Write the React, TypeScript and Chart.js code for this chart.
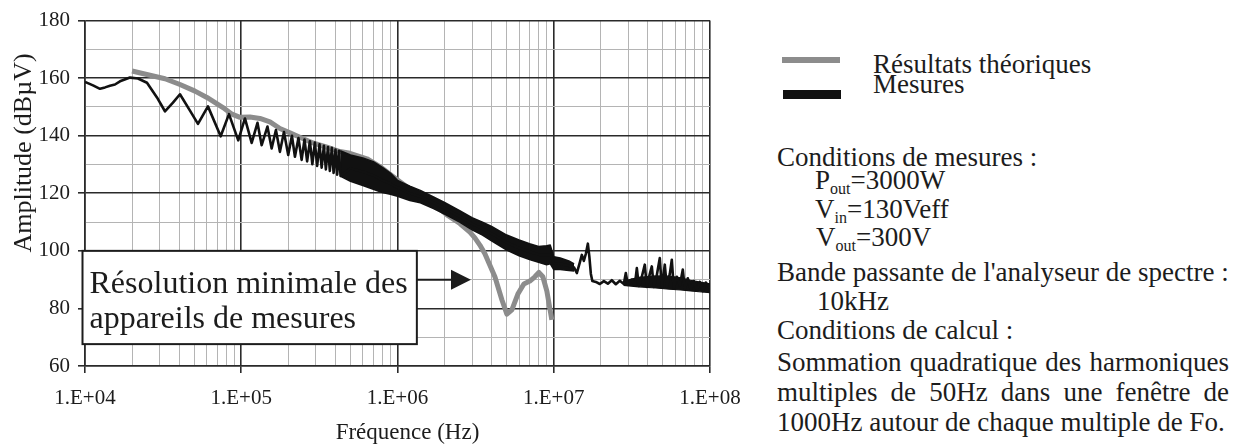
import React, { useEffect, useRef } from "react";
import { Chart, registerables } from "chart.js";

Chart.register(...registerables);

// ---------- data ----------
const seriesNames = ["Résultats théoriques", "Mesures"];

// Résultats théoriques (gray)
const theoFreq = [
  20000, 26050, 32500, 40530, 50600, 60300, 76400, 87200, 98100, 113700,
  131700, 152600, 176800, 204900, 237400, 287500, 353500, 428000, 496000, 637000,
  772000, 991000, 1200000, 1391000, 1612000, 1867000, 2071000, 2507000, 2905000, 3128000,
  3367000, 3625000, 4201000, 4656000, 5012000, 5395000, 5893000, 6437000, 7033000, 7570000,
  8030000, 8516000, 9035000, 9440000, 9720000,
];
const theoDb = [
  162.5, 161, 159.8, 157.8, 155.5, 153.3, 149.8, 147.5, 146.4, 146.5,
  146, 144.8, 142.5, 141, 139.5, 137.5, 136, 134.5, 133.9, 132,
  129.3, 124.8, 121.5, 119.5, 117.5, 114.5, 112.5, 109.5, 106.5, 104.5,
  102, 99, 91, 83, 78, 79.5, 85, 88.5, 89.5, 91,
  92.5, 91, 86, 80, 76,
];

// Mesures (black line)
const measFreq = [
  10000, 11250, 12470, 13430, 14450, 15550, 16750, 19410, 21840, 24930,
  28880, 32490, 36560, 40530, 46970, 52840, 61220, 73840, 83440, 95680,
  105600, 116600, 127000, 135100, 147100, 156500, 166700, 176800, 187600, 199800,
  211000, 220600, 232300, 243500, 254000, 264000, 275000, 285000, 296000, 306000,
  317000, 327000, 338000, 348000, 359000, 369000, 380000, 390000, 401000, 411000,
  422000, 432000, 500000, 600000, 700000, 800000, 900000, 1000000, 1200000, 1400000,
  1700000, 2000000, 2500000, 3000000, 3500000, 4000000, 5000000, 6000000, 7000000, 8000000,
  9000000, 9500000, 10000000, 11000000, 12500000, 13500000, 14050000, 14690000, 15130000, 15580000,
  16050000, 16530000, 16900000, 17280000, 17660000, 18600000, 19720000, 20930000, 22190000, 23530000,
  24960000, 26480000, 28080000, 28920000, 29790000, 31600000, 33030000, 34020000, 35030000, 36610000,
  38260000, 39410000, 41190000, 42420000, 43690000, 45660000, 47720000, 49140000, 51360000, 52900000,
  55320000, 56960000, 58660000, 61320000, 64090000, 66990000, 68990000, 72110000, 75370000, 78780000,
  82320000, 86040000, 89930000, 94000000, 100000000,
];
const measDb = [
  158.7, 157.5, 156.3, 156.8, 157.4, 157.8, 158.9, 160.2, 159.9, 158.4,
  153.3, 148.5, 151.5, 154.4, 148.7, 144.1, 150.2, 139.8, 147.5, 138.4,
  146, 137.5, 144.5, 136.7, 143.2, 135.6, 142, 134.4, 141.3, 133.3,
  140, 132.7, 139.2, 131.6, 138.7, 131.1, 138.1, 130.1, 137.6, 129.5,
  137, 128.9, 136.5, 128.3, 136.1, 127.8, 135.8, 127.1, 135.2, 126.5,
  134.8, 126, 128.7, 127.5, 126.2, 124.6, 123.3, 122, 120, 118.8,
  116.7, 114.8, 112, 109.4, 107.7, 106, 102.9, 101, 99.7, 98.7,
  98.5, 98.7, 95.7, 95.5, 94.8, 94.2, 92.3, 96, 98.6, 96.5,
  99, 102.5, 98, 92, 89.5, 89.2, 88.5, 89.5, 88.6, 89.8,
  88.4, 89.6, 88.5, 92.3, 88.2, 90, 88, 94, 87.8, 91,
  95.2, 87.5, 92, 94.6, 87.5, 91.5, 97.5, 87.2, 95.2, 87.5,
  92, 96.9, 87, 91, 88, 93.5, 86.8, 90.5, 86.5, 89.5,
  86.3, 89.2, 86, 89, 87,
];

// Mesures: dense envelope of the spectrum (upper / lower)
const bandFreq = [
  430000, 500000, 600000, 700000, 800000, 900000, 1000000, 1200000, 1400000, 1700000,
  2000000, 2500000, 3000000, 3500000, 4000000, 5000000, 6000000, 7000000, 8000000, 9000000,
  9500000, 10000000, 11000000, 12500000, 13500000,
];
const bandUpper = [
  134.8, 133.3, 132.3, 131, 129, 127, 124.5, 122.5, 121, 118.7,
  116.8, 114, 111.5, 110, 108.5, 105.5, 103.8, 102.5, 101.5, 101.8,
  102, 98, 97.5, 96.5, 95.5,
];
const bandLower = [
  126, 124.2, 122.7, 121.4, 120.3, 119.7, 119, 117.5, 116.7, 114.7,
  112.8, 110, 107.3, 105.5, 103.5, 100.3, 98.3, 97, 96, 95.2,
  95.5, 93.5, 93.5, 93.2, 93,
];
const floorFreq = [28000000, 35000000, 45000000, 55000000, 65000000, 75000000, 85000000, 100000000];
const floorUpper = [89.5, 90.8, 91.3, 91.2, 90.6, 89.8, 89.2, 88.5];
const floorLower = [88, 87.5, 87.1, 86.7, 86.4, 86.1, 85.8, 85.5];

// axes
const xMajorTicks = [10000, 100000, 1000000, 10000000, 100000000];
const xTickLabels = ["1.E+04", "1.E+05", "1.E+06", "1.E+07", "1.E+08"];
const xMinorMultipliers = [2, 3, 4, 5, 6, 7, 8, 9];
const yMajorTicks = [60, 80, 100, 120, 140, 160, 180];
const yTickLabels = ["60", "80", "100", "120", "140", "160", "180"];
const yMinorTicks = [70, 90, 110, 130, 150, 170];

const xTitle = "Fréquence (Hz)";
const yTitle = "Amplitude (dBµV)";
const annotLines = ["Résolution minimale des", "appareils de mesures"];
const annot = { x0: 10000, x1: 1330000, yTop: 100, yBottom: 67.6, arrowY: 90, arrowBase: 2200000, arrowTip: 2950000 };

// ---------- styles ----------
const SERIF = "'Liberation Serif', 'Times New Roman', serif";
const INK = "#1c1c1c";
const GRAY = "#8c8c8c";
const MAJOR_GRID = "#2a2a2a";
const MINOR_GRID = "#b4b4b4";

const pts = (xs: number[], ys: number[]) => xs.map((x, i) => ({ x, y: ys[i] }));

const xTickValues: number[] = [];
xMajorTicks.slice(0, -1).forEach((d) => {
  xTickValues.push(d);
  xMinorMultipliers.forEach((m) => xTickValues.push(d * m));
});
xTickValues.push(xMajorTicks[xMajorTicks.length - 1]);
const yTickValues = [...yMajorTicks, ...yMinorTicks].sort((a, b) => a - b);

const isXMajor = (v: number) => xMajorTicks.some((d) => Math.abs(d - v) / d < 1e-6);
const isYMajor = (v: number) => yMajorTicks.includes(v);

const overlayPlugin = {
  id: "overlay",
  afterDraw(chart: any) {
    const { ctx, scales } = chart;
    const x = scales.x;
    const y = scales.y;
    ctx.save();
    // annotation box
    const bx0 = x.getPixelForValue(annot.x0) - 2.5;
    const bx1 = x.getPixelForValue(annot.x1);
    const by0 = y.getPixelForValue(annot.yTop);
    const by1 = y.getPixelForValue(annot.yBottom);
    ctx.fillStyle = "#ffffff";
    ctx.fillRect(bx0, by0, bx1 - bx0, by1 - by0);
    ctx.strokeStyle = INK;
    ctx.lineWidth = 2;
    ctx.strokeRect(bx0, by0, bx1 - bx0, by1 - by0);
    ctx.fillStyle = INK;
    ctx.font = `32px ${SERIF}`;
    ctx.textAlign = "left";
    ctx.textBaseline = "alphabetic";
    ctx.fillText(annotLines[0], bx0 + 7, by0 + 42);
    ctx.fillText(annotLines[1], bx0 + 7, by0 + 77);
    // arrow
    const ay = y.getPixelForValue(annot.arrowY);
    const ab = x.getPixelForValue(annot.arrowBase);
    const at = x.getPixelForValue(annot.arrowTip);
    ctx.beginPath();
    ctx.moveTo(bx1, ay);
    ctx.lineTo(ab + 1, ay);
    ctx.lineWidth = 2;
    ctx.stroke();
    ctx.beginPath();
    ctx.moveTo(ab, ay - 10);
    ctx.lineTo(at, ay);
    ctx.lineTo(ab, ay + 10);
    ctx.closePath();
    ctx.fill();
    // axis titles
    const area = chart.chartArea;
    ctx.font = `23px ${SERIF}`;
    ctx.textAlign = "center";
    ctx.textBaseline = "middle";
    ctx.fillText(xTitle, (area.left + area.right) / 2 + 10, 433);
    ctx.translate(24, 153);
    ctx.rotate(-Math.PI / 2);
    ctx.font = `26px ${SERIF}`;
    ctx.fillText(yTitle, 0, 0);
    ctx.restore();
  },
};

function ChartCanvas() {
  const ref = useRef<HTMLCanvasElement | null>(null);
  useEffect(() => {
    if (!ref.current) return;
    const lineBase = { pointRadius: 0, tension: 0, borderJoinStyle: "round" as const };
    const chart = new Chart(ref.current, {
      type: "line",
      data: {
        datasets: [
          {
            label: seriesNames[1],
            data: pts(measFreq, measDb),
            borderColor: "#111111",
            borderWidth: 2.6,
            fill: false,
            order: 1,
            ...lineBase,
          },
          {
            label: seriesNames[1] + " (enveloppe haute)",
            data: pts(bandFreq, bandUpper),
            borderColor: "#111111",
            backgroundColor: "#111111",
            borderWidth: 1.5,
            fill: "+1",
            order: 2,
            ...lineBase,
          },
          {
            label: seriesNames[1] + " (enveloppe basse)",
            data: pts(bandFreq, bandLower),
            borderColor: "#111111",
            borderWidth: 1.5,
            fill: false,
            order: 3,
            ...lineBase,
          },
          {
            label: seriesNames[1] + " (plancher haut)",
            data: pts(floorFreq, floorUpper),
            borderColor: "#111111",
            backgroundColor: "#111111",
            borderWidth: 1.2,
            fill: "+1",
            order: 4,
            ...lineBase,
          },
          {
            label: seriesNames[1] + " (plancher bas)",
            data: pts(floorFreq, floorLower),
            borderColor: "#111111",
            borderWidth: 1.2,
            fill: false,
            order: 5,
            ...lineBase,
          },
          {
            label: seriesNames[0],
            data: pts(theoFreq, theoDb),
            borderColor: GRAY,
            borderWidth: 5,
            fill: false,
            order: 10,
            ...lineBase,
          },
        ],
      },
      options: {
        responsive: false,
        animation: false,
        events: [],
        layout: { padding: { left: 0, right: 50, top: 15, bottom: 0 } },
        plugins: { legend: { display: false }, tooltip: { enabled: false } },
        scales: {
          x: {
            type: "logarithmic",
            min: 10000,
            max: 100000000,
            afterBuildTicks: (s: any) => {
              s.ticks = xTickValues.map((v) => ({ value: v }));
            },
            afterFit: (s: any) => {
              s.height = 80;
            },
            ticks: {
              autoSkip: false,
              maxRotation: 0,
              minRotation: 0,
              padding: 13,
              color: INK,
              font: { family: SERIF, size: 21 },
              callback: (v: any) => {
                const i = xMajorTicks.findIndex((d) => Math.abs(d - Number(v)) / d < 1e-6);
                return i >= 0 ? xTickLabels[i] : "";
              },
            },
            grid: {
              color: (c: any) => (isXMajor(c.tick.value) ? MAJOR_GRID : MINOR_GRID),
              lineWidth: (c: any) => (isXMajor(c.tick.value) ? 1.6 : 1),
              tickLength: 7,
              tickColor: (c: any) => (isXMajor(c.tick.value) ? MAJOR_GRID : "rgba(0,0,0,0)"),
              tickWidth: 1.6,
            },
            border: { display: true, color: MAJOR_GRID, width: 1.6 },
          },
          y: {
            type: "linear",
            min: 60,
            max: 180,
            afterBuildTicks: (s: any) => {
              s.ticks = yTickValues.map((v) => ({ value: v }));
            },
            afterFit: (s: any) => {
              s.width = 85;
            },
            ticks: {
              autoSkip: false,
              padding: 8,
              color: INK,
              font: { family: SERIF, size: 21 },
              callback: (v: any) => {
                const i = yMajorTicks.indexOf(Number(v));
                return i >= 0 ? yTickLabels[i] : "";
              },
            },
            grid: {
              color: (c: any) => (isYMajor(c.tick.value) ? MAJOR_GRID : MINOR_GRID),
              lineWidth: (c: any) => (isYMajor(c.tick.value) ? 1.6 : 1),
              tickLength: 7,
              tickColor: (c: any) => (isYMajor(c.tick.value) ? MAJOR_GRID : "rgba(0,0,0,0)"),
              tickWidth: 1.6,
            },
            border: { display: true, color: MAJOR_GRID, width: 1.6 },
          },
        },
      },
      plugins: [overlayPlugin],
    } as any);
    return () => chart.destroy();
  }, []);
  return <canvas ref={ref} width={760} height={446} style={{ position: "absolute", left: 0, top: 0, width: 760, height: 446 }} />;
}

const T = ({ left, top, children, style }: { left: number; top: number; children: any; style?: any }) => (
  <div
    style={{
      position: "absolute",
      left,
      top,
      fontFamily: SERIF,
      fontSize: 27,
      lineHeight: "27px",
      color: INK,
      whiteSpace: "nowrap",
      ...style,
    }}
  >
    {children}
  </div>
);

const Sub = ({ children }: { children: any }) => (
  <span style={{ fontSize: 16, position: "relative", top: 5 }}>{children}</span>
);

export default function App() {
  const just = { width: 452, textAlign: "justify" as const, textAlignLast: "justify" as const, whiteSpace: "normal" as const };
  return (
    <div style={{ position: "absolute", left: 0, top: 0, width: 1250, height: 446, background: "#ffffff", overflow: "hidden" }}>
      <ChartCanvas />
      {/* legend */}
      <div style={{ position: "absolute", left: 782, top: 57, width: 58, height: 6, background: GRAY }} />
      <div style={{ position: "absolute", left: 783, top: 90, width: 58, height: 9, background: "#111111" }} />
      <T left={873} top={51}>{seriesNames[0]}</T>
      <T left={873} top={71}>{seriesNames[1]}</T>
      {/* conditions */}
      <T left={777} top={144}>Conditions de mesures :</T>
      <T left={815} top={167}>
        P<Sub>out</Sub>=3000W
      </T>
      <T left={815} top={196}>
        V<Sub>in</Sub>=130Veff
      </T>
      <T left={816} top={224}>
        V<Sub>out</Sub>=300V
      </T>
      <T left={777} top={259}>Bande passante de l'analyseur de spectre :</T>
      <T left={817} top={288}>10kHz</T>
      <T left={777} top={317}>Conditions de calcul :</T>
      <T left={777} top={349} style={just}>Sommation quadratique des harmoniques</T>
      <T left={777} top={379} style={just}>multiples de 50Hz dans une fenêtre de</T>
      <T left={777} top={409}>1000Hz autour de chaque multiple de Fo.</T>
    </div>
  );
}
